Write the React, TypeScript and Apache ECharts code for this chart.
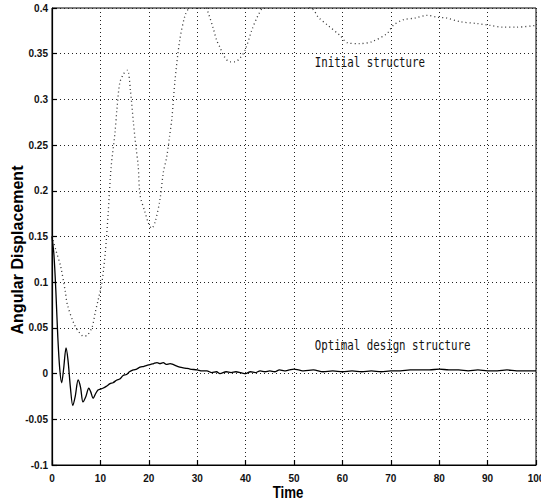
import React, { useEffect, useRef } from "react";
import * as echarts from "echarts";

// ---- data ----
const xTicks = [0, 10, 20, 30, 40, 50, 60, 70, 80, 90, 100];
const yTickLabels = ["-0.1", "-0.05", "0", "0.05", "0.1", "0.15", "0.2", "0.25", "0.3", "0.35", "0.4"];

const initialT = [0, 0.8, 1.8, 2.7, 3.2, 4.5, 5.5, 6.5, 7.3, 8.3, 8.9, 9.6, 10.3, 11.0, 11.6, 12.2, 13.0, 13.4, 14.0, 14.8, 15.6, 16.2, 16.8, 17.3, 17.8, 18.2, 19.2, 19.9, 20.6, 21.3, 22.3, 23.0, 23.7, 24.3, 24.8, 25.4, 26.4, 27.5, 28.5, 29.5, 30.5, 31.5, 32.2, 33.3, 34.0, 34.7, 35.7, 36.8, 37.8, 38.8, 39.9, 41.3, 42.4, 43.5, 45, 47.5, 50, 52, 54, 55, 57, 59.5, 61, 63.5, 66, 69.2, 70.5, 72.5, 75, 77.5, 79.5, 81.6, 84.3, 87.8, 90.5, 93.2, 96, 100];
const initialV = [0.15, 0.135, 0.117, 0.091, 0.075, 0.055, 0.046, 0.041, 0.042, 0.051, 0.066, 0.082, 0.099, 0.132, 0.175, 0.225, 0.263, 0.288, 0.318, 0.328, 0.332, 0.31, 0.276, 0.25, 0.228, 0.195, 0.177, 0.165, 0.159, 0.166, 0.19, 0.22, 0.237, 0.26, 0.281, 0.32, 0.365, 0.392, 0.402, 0.41, 0.412, 0.405, 0.396, 0.378, 0.365, 0.357, 0.346, 0.341, 0.341, 0.345, 0.354, 0.376, 0.39, 0.4, 0.405, 0.408, 0.406, 0.404, 0.398, 0.39, 0.381, 0.37, 0.362, 0.361, 0.363, 0.372, 0.381, 0.387, 0.389, 0.392, 0.39, 0.389, 0.385, 0.383, 0.381, 0.379, 0.379, 0.381];

const optimalT = [0, 0.4, 0.8, 1.2, 1.6, 2.0, 2.4, 2.9, 3.3, 3.8, 4.3, 4.8, 5.4, 5.9, 6.4, 7.0, 7.6, 8.0, 8.5, 9.0, 9.5, 10.0, 10.5, 11.2, 12.0, 12.6, 13.4, 14.0, 14.7, 15.4, 16.0, 16.8, 17.5, 18.2, 19.0, 19.6, 20.4, 21.0, 21.7, 22.3, 23.0, 23.6, 24.4, 25.0, 26.4, 27.5, 28.5, 30, 31, 32, 33, 34, 34.7, 36, 37, 38, 39, 40, 41, 42, 43, 44, 45, 46, 47, 48, 49, 50, 51, 52, 54, 56, 58, 60, 62, 64, 66, 68, 70, 72, 74, 76, 78, 80, 82, 84, 86, 88, 90, 92, 94, 96, 98, 100];
const optimalV = [0.15, 0.13, 0.09, 0.04, 0.005, -0.01, 0.005, 0.028, 0.015, -0.015, -0.035, -0.025, -0.007, -0.015, -0.031, -0.025, -0.016, -0.02, -0.027, -0.022, -0.018, -0.017, -0.016, -0.014, -0.011, -0.01, -0.007, -0.006, -0.002, -0.001, 0.002, 0.004, 0.005, 0.007, 0.008, 0.009, 0.01, 0.011, 0.012, 0.011, 0.012, 0.01, 0.011, 0.01, 0.007, 0.006, 0.005, 0.004, 0.003, 0.003, 0.001, 0.002, 0.0, 0.002, 0.001, 0.002, 0.001, 0.0, 0.002, 0.001, 0.003, 0.002, 0.003, 0.002, 0.004, 0.003, 0.004, 0.005, 0.004, 0.003, 0.004, 0.002, 0.003, 0.002, 0.003, 0.002, 0.003, 0.002, 0.003, 0.003, 0.004, 0.004, 0.004, 0.005, 0.004, 0.004, 0.003, 0.004, 0.003, 0.003, 0.004, 0.003, 0.003, 0.003];

const annotations = [
  { text: "Initial structure", t: 54.3, v: 0.341 },
  { text: "Optimal design structure", t: 54.3, v: 0.031 },
];

export default function App() {
  const ref = useRef<HTMLDivElement>(null);
  useEffect(() => {
    document.body.style.margin = "0";
    if (!ref.current) return;
    const chart = echarts.init(ref.current, null, { renderer: "svg" });
    const labelFont = { fontFamily: "'Liberation Sans', Arial, sans-serif", fontWeight: "bold" as const, fontSize: 10, color: "#111" };
    const initialData = initialT.map((t, i) => [t, initialV[i]]);
    const optimalData = optimalT.map((t, i) => [t, optimalV[i]]);
    chart.setOption({
      animation: false,
      backgroundColor: "#fff",
      grid: { left: 52, right: 5, top: 8, bottom: 37, show: true, borderColor: "#000", borderWidth: 1, containLabel: false, outerBoundsMode: "none" },
      xAxis: {
        type: "value",
        min: xTicks[0],
        max: xTicks[xTicks.length - 1],
        interval: 10,
        axisLine: { show: true, onZero: false, lineStyle: { color: "#000", width: 1.2 } },
        axisTick: { show: true, inside: true, length: 5, lineStyle: { color: "#000", width: 1.2 } },
        axisLabel: { ...labelFont, margin: 8, showMaxLabel: true, showMinLabel: true },
        splitLine: { show: true, lineStyle: { color: "#222", width: 1, type: [1, 3] } },
      },
      yAxis: {
        type: "value",
        min: -0.1,
        max: 0.4,
        interval: 0.05,
        axisLine: { show: true, onZero: false, lineStyle: { color: "#000", width: 1.2 } },
        axisTick: { show: true, inside: true, length: 5, lineStyle: { color: "#000", width: 1.2 } },
        axisLabel: {
          ...labelFont,
          margin: 4,
          formatter: (v: number) => {
            const idx = Math.round((v + 0.1) / 0.05);
            return yTickLabels[idx] ?? "";
          },
        },
        splitLine: { show: true, lineStyle: { color: "#222", width: 1, type: [1, 3] } },
      },
      series: [
        {
          name: "Initial structure",
          type: "line",
          data: initialData,
          showSymbol: false,
          smooth: 0.3,
          clip: true,
          lineStyle: { color: "#333", width: 1.3, type: [1, 3] },
        },
        {
          name: "Optimal design structure",
          type: "line",
          data: optimalData,
          showSymbol: false,
          smooth: 0.3,
          clip: true,
          lineStyle: { color: "#000", width: 1.3 },
        },
      ],
    });
    const annGraphics = annotations.map((a) => {
      const p = chart.convertToPixel({ gridIndex: 0 }, [a.t, a.v]) as number[];
      return {
        type: "text",
        x: p[0],
        y: p[1],
        scaleX: 0.77,
        style: {
          text: a.text,
          fontFamily: "'DejaVu Sans Mono', monospace",
          fontSize: 14,
          fill: "#111",
          align: "left",
          verticalAlign: "middle",
        },
        z: 10,
      };
    });
    chart.setOption({
      graphic: [
        ...annGraphics,
        {
          type: "text",
          x: 17,
          y: 250,
          rotation: Math.PI / 2,
          style: {
            text: "Angular Displacement",
            fontFamily: "'Liberation Sans', Arial, sans-serif",
            fontWeight: "bold",
            fontSize: 16,
            fill: "#000",
            align: "center",
            verticalAlign: "middle",
          },
        },
        {
          type: "text",
          x: 288,
          y: 492,
          scaleX: 0.78,
          style: {
            text: "Time",
            fontFamily: "'Liberation Sans', Arial, sans-serif",
            fontWeight: "bold",
            fontSize: 17,
            fill: "#000",
            align: "center",
            verticalAlign: "middle",
          },
        },
      ],
    });
    return () => chart.dispose();
  }, []);
  return <div ref={ref} style={{ width: 541, height: 502 }} />;
}
